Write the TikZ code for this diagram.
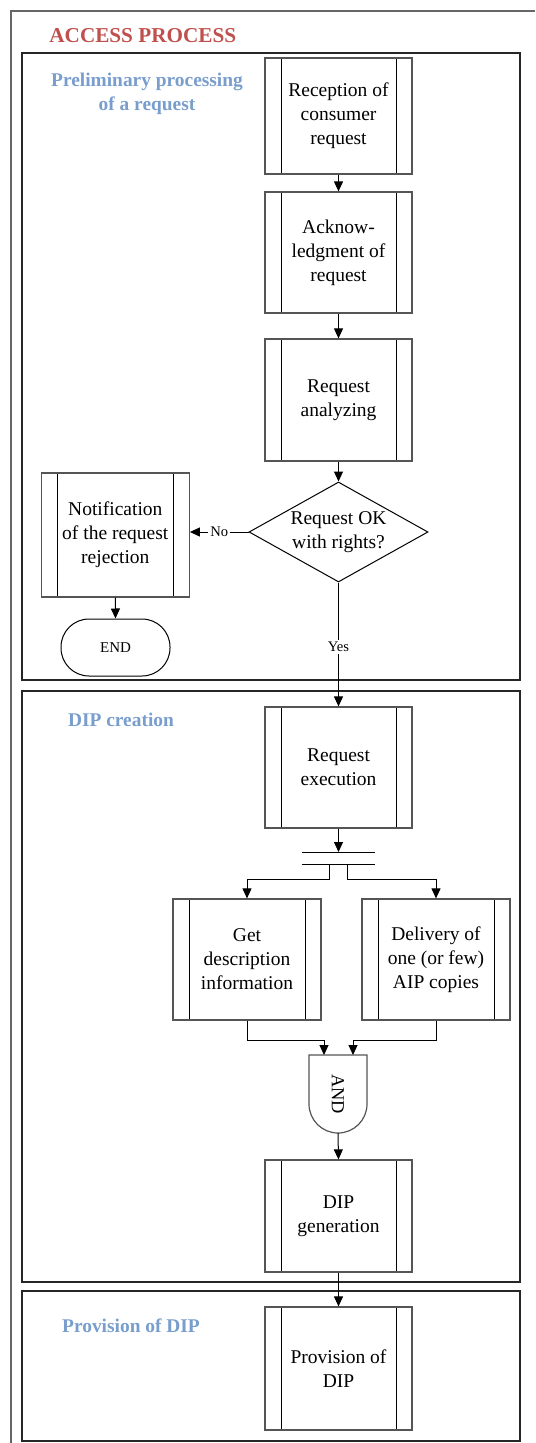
\documentclass[tikz,border=0pt]{standalone}
\usepackage{fontspec}
\setmainfont{Liberation Serif}
\usetikzlibrary{shapes.geometric,arrows.meta}
\definecolor{titlered}{RGB}{192,80,77}
\definecolor{secblue}{RGB}{121,157,204}
\definecolor{boxgray}{RGB}{85,85,85}
\begin{document}
\begin{tikzpicture}[x=0.5pt,y=-0.5pt,
  proc/.style={draw=boxgray, line width=0.6pt, minimum width=73.5pt, minimum height=60.5pt,
    inner sep=0pt, align=center, font=\fontsize{9.75}{12}\selectfont,
    path picture={
      \draw[black,line width=0.5pt] ([xshift=8pt]path picture bounding box.north west) -- ([xshift=8pt]path picture bounding box.south west);
      \draw[black,line width=0.5pt] ([xshift=-8pt]path picture bounding box.north east) -- ([xshift=-8pt]path picture bounding box.south east);}},
  dec/.style={shape=diamond, shape aspect=1.79, draw=black, line width=0.5pt, minimum width=89.5pt, minimum height=50pt,
    inner sep=0pt, align=center, font=\fontsize{9.75}{12}\selectfont},
  term/.style={draw=black, line width=0.5pt, rounded corners=14pt, minimum width=54.5pt, minimum height=28.5pt,
    inner sep=0pt, font=\fontsize{7.5}{9}\selectfont},
  arr/.style={-{Triangle[length=5pt,width=4.5pt]}, line width=0.5pt, draw=black},
  plain/.style={line width=0.5pt, draw=black},
  frame/.style={draw=black!85, line width=0.6pt},
  lbl/.style={fill=white, inner sep=1pt, font=\fontsize{7.3}{9}\selectfont},
  sec/.style={text=secblue, align=center, inner sep=0pt, font=\fontsize{9.7}{12}\selectfont\bfseries},
  ttl/.style={text=titlered, inner sep=0pt, font=\fontsize{10.6}{13}\selectfont\bfseries}]
\useasboundingbox (0,0) rectangle (535,1443);

% outer frame (cut by the page on the right and bottom)
\draw[draw=black!60, line width=0.8pt] (11,1443) -- (11,11) -- (535,11);
% section frames
\draw[frame] (22,53) rectangle (520,680);
\draw[frame] (22,691) rectangle (520,1282);
\draw[frame] (22,1291) rectangle (520,1441);

% titles
\node[ttl, anchor=west] (title) at (49,36) {ACCESS PROCESS};
\node[sec] (s1) at (147,94) {Preliminary processing\\of a request};
\node[sec] (s2) at (121,720) {DIP creation};
\node[sec] (s3) at (131,1326) {Provision of DIP};

% nodes
\node[proc, minimum height=58pt] (b1) at (338.5,116) {Reception of\\consumer\\request};
\node[proc] (b2) at (338.5,252.5) {Acknow-\\ledgment of\\request};
\node[proc, minimum height=61pt] (b3) at (338.5,400) {Request\\analyzing};
\node[dec] (d) at (338.5,532) {Request OK\\with rights?};
\node[proc, minimum width=74pt, minimum height=62pt] (n) at (115.3,535) {Notification\\of the request\\rejection};
\node[term] (end) at (115.5,647.5) {END};
\node[proc] (re) at (338.5,767.5) {Request\\execution};
\node[proc, minimum width=74pt] (gd) at (247,959.5) {Get\\description\\information};
\node[proc, minimum width=74pt] (dl) at (436,959.5) {Delivery of\\one (or few)\\AIP copies};
\node[proc, minimum height=56pt] (dg) at (338.5,1216) {DIP\\generation};
\node[proc, minimum height=61.5pt] (pd) at (338.5,1368.5) {Provision of\\DIP};

% fork bars
\coordinate (f1l) at (302,852);
\coordinate (f1r) at (375,852);
\coordinate (f2l) at (302,864);
\coordinate (f2r) at (375,864);
\coordinate (fa) at (329,864);
\coordinate (fb) at (347,864);
\draw[plain] (f1l) -- (f1r);
\draw[plain] (f2l) -- (f2r);

% AND join
\coordinate (ja) at (324,1055);
\coordinate (jb) at (353,1055);
\coordinate (andb) at (338,1133);
\draw[draw=boxgray, line width=0.6pt] (309,1055) -- (309,1104) arc[start angle=180,end angle=360,radius=14.5pt] -- (367,1055) -- cycle;
\node[rotate=-90, inner sep=0pt, font=\fontsize{9.2}{11}\selectfont] (andl) at (338,1094) {AND};

% connectors
\draw[arr] (b1.south) -- (b2.north);
\draw[arr] (b2.south) -- (b3.north);
\draw[arr] (b3.south) -- (d.north);
\draw[arr] (d.west) -- node[lbl, pos=0.5] {No} (d.west -| n.east);
\draw[arr] (n.south) -- (end.north);
\draw[arr] (d.south) -- node[lbl, pos=0.52] {Yes} (re.north);
\draw[arr] (re.south) -- (re.south |- f1l);
\draw[arr] (fa) -- ++(0,15) -| (gd.north);
\draw[arr] (fb) -- ++(0,15) -| (dl.north);
\draw[arr] (gd.south) -- ++(0,20) -| (ja);
\draw[arr] (dl.south) -- ++(0,20) -| (jb);
\draw[arr] (andb) -- (dg.north);
\draw[arr] (dg.south) -- (pd.north);
\end{tikzpicture}
\end{document}
